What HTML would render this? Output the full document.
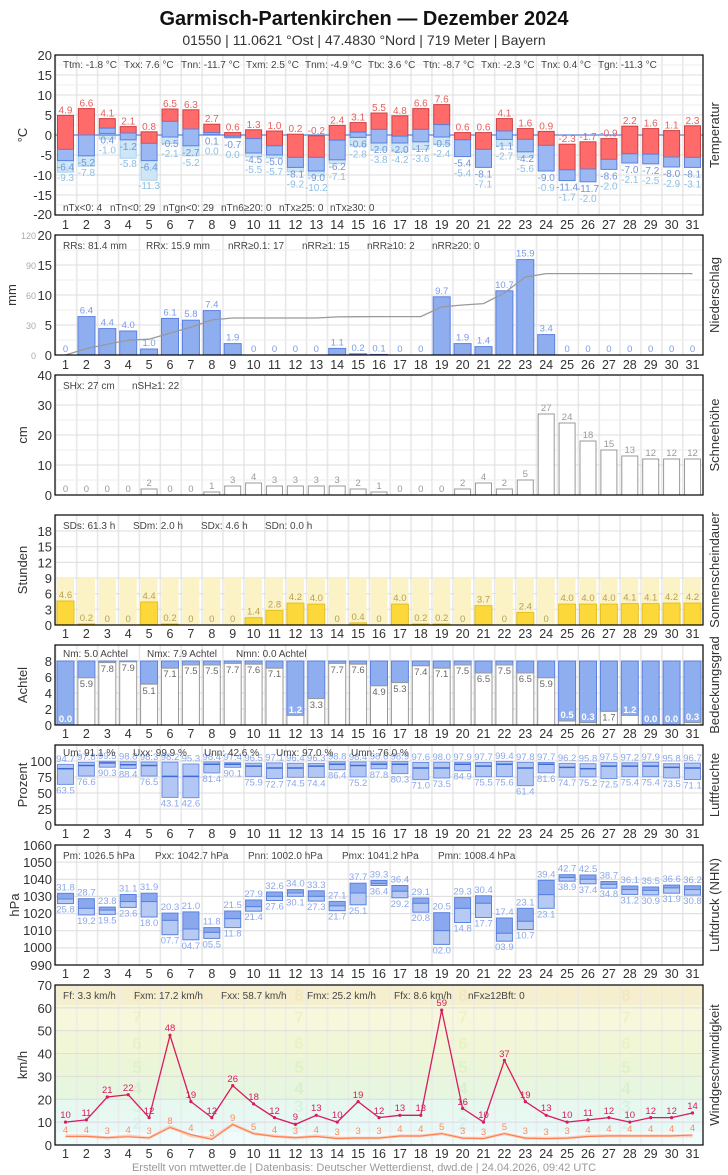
<!DOCTYPE html>
<html><head><meta charset="utf-8"><style>
body{margin:0;background:#fff}
svg{display:block;font-family:"Liberation Sans",sans-serif}
.st{font-size:10px;fill:#444}
.ax{font-size:13px;fill:#333;text-anchor:end}
.dl{font-size:12.5px;fill:#333;text-anchor:middle}
.rt{font-size:13px;fill:#333;text-anchor:middle}
.tr{font-size:10px;fill:#e86060;text-anchor:middle}
.tb{font-size:10px;fill:#6f94dc;text-anchor:middle}
.tg{font-size:10px;fill:#8cc0e4;text-anchor:middle}
.red{fill:#ff6a6a;stroke:#d04040;stroke-width:1}
.blu{fill:#9bb8f2;stroke:#5b82de;stroke-width:1}
.lb{fill:#cfe6f6;stroke:#a8d0ec;stroke-width:1}
.pb{fill:#8eaef0;stroke:#5b80e0;stroke-width:1}
.pl{font-size:9.5px;fill:#7a9ae8;text-anchor:middle}
.sb{fill:#fff;stroke:#999;stroke-width:1}
.sl{font-size:9.5px;fill:#999;text-anchor:middle}
.yb{fill:#fcd83a;stroke:#e4c020;stroke-width:1}
.yp{fill:#fbf2c6}
.yl{font-size:9.5px;fill:#b8a050;text-anchor:middle}
.cw{fill:#fff;stroke:#999;stroke-width:1}
.cb{fill:#8eaef0;stroke:#5b80e0;stroke-width:1}
.cl{font-size:9.5px;fill:#666;text-anchor:middle}
.cwl{font-size:9.5px;fill:#fff;font-weight:bold;text-anchor:middle}
.hb{fill:#b2c7f4;stroke:#6d90e6;stroke-width:1}
.hm{stroke:#3f6ad6;stroke-width:1.5}
.hl{font-size:9.5px;fill:#8aa6ea;text-anchor:middle}
.pu{fill:#8aa8ee;stroke:#5b82de;stroke-width:1}
.pd{fill:#b6caf4;stroke:#5b82de;stroke-width:1}
.wl{font-size:9.5px;fill:#d81b60;text-anchor:middle}
.wo{font-size:9.5px;fill:#ff8a5c;text-anchor:middle}
.bf{font-size:17px;font-weight:bold;text-anchor:middle;opacity:.45}
.g{stroke:#dcdcdc;stroke-width:1}
.g2{stroke:#eeeeee;stroke-width:1}
.fr{fill:none;stroke:#000;stroke-width:1.2}
</style></head><body>
<svg width="728" height="1175" viewBox="0 0 728 1175" xmlns="http://www.w3.org/2000/svg">
<defs>
<pattern id="vg" x="55" y="0" width="20.9" height="20" patternUnits="userSpaceOnUse"><rect x="0" y="0" width="1.6" height="20" fill="#e8e8e8"/></pattern>
<g id="days">
<text x="65.5" class="dl">1</text><text x="86.4" class="dl">2</text><text x="107.3" class="dl">3</text><text x="128.2" class="dl">4</text><text x="149.1" class="dl">5</text><text x="170" class="dl">6</text><text x="190.9" class="dl">7</text><text x="211.8" class="dl">8</text><text x="232.7" class="dl">9</text><text x="253.6" class="dl">10</text><text x="274.5" class="dl">11</text><text x="295.4" class="dl">12</text><text x="316.3" class="dl">13</text><text x="337.2" class="dl">14</text><text x="358.1" class="dl">15</text><text x="379" class="dl">16</text><text x="399.9" class="dl">17</text><text x="420.8" class="dl">18</text><text x="441.7" class="dl">19</text><text x="462.6" class="dl">20</text><text x="483.5" class="dl">21</text><text x="504.4" class="dl">22</text><text x="525.3" class="dl">23</text><text x="546.2" class="dl">24</text><text x="567.1" class="dl">25</text><text x="588" class="dl">26</text><text x="608.9" class="dl">27</text><text x="629.8" class="dl">28</text><text x="650.7" class="dl">29</text><text x="671.6" class="dl">30</text><text x="692.5" class="dl">31</text>
</g>
</defs>

<text x="364" y="25" text-anchor="middle" font-size="20" font-weight="bold" fill="#111">Garmisch-Partenkirchen  —  Dezember 2024</text>
<text x="364" y="45" text-anchor="middle" font-size="14" fill="#333">01550  |  11.0621 °Ost  |  47.4830 °Nord  |  719 Meter  |  Bayern</text>

<!-- ============ TEMPERATURE ============ -->
<rect x="55" y="55" width="648" height="160" fill="url(#vg)"/>
<g class="g2"><line x1="55" x2="703" y1="65" y2="65"/><line x1="55" x2="703" y1="85" y2="85"/><line x1="55" x2="703" y1="105" y2="105"/><line x1="55" x2="703" y1="125" y2="125"/><line x1="55" x2="703" y1="145" y2="145"/><line x1="55" x2="703" y1="165" y2="165"/><line x1="55" x2="703" y1="185" y2="185"/><line x1="55" x2="703" y1="205" y2="205"/></g>
<g class="g"><line x1="55" x2="703" y1="75" y2="75"/><line x1="55" x2="703" y1="95" y2="95"/><line x1="55" x2="703" y1="115" y2="115"/><line x1="55" x2="703" y1="155" y2="155"/><line x1="55" x2="703" y1="175" y2="175"/><line x1="55" x2="703" y1="195" y2="195"/></g>
<g>
<rect class="lb" x="57.5" y="160.6" width="16" height="11.6"/><rect class="lb" x="78.4" y="155.8" width="16" height="10.4"/><rect class="lb" x="99.3" y="133.4" width="16" height="5.6"/><rect class="lb" x="120.2" y="139.8" width="16" height="18.4"/><rect class="lb" x="141.1" y="160.6" width="16" height="19.6"/><rect class="lb" x="162" y="137" width="16" height="6.4"/><rect class="lb" x="182.9" y="145.8" width="16" height="10"/><rect class="lb" x="245.6" y="153" width="16" height="4"/><rect class="lb" x="266.5" y="155" width="16" height="2.8"/><rect class="lb" x="287.4" y="167.4" width="16" height="4.4"/><rect class="lb" x="308.3" y="171" width="16" height="4.8"/><rect class="lb" x="329.2" y="159.8" width="16" height="3.6"/><rect class="lb" x="350.1" y="137.4" width="16" height="8.8"/><rect class="lb" x="371" y="143" width="16" height="7.2"/><rect class="lb" x="391.9" y="143" width="16" height="8.8"/><rect class="lb" x="412.8" y="141.8" width="16" height="7.6"/><rect class="lb" x="433.7" y="137" width="16" height="7.6"/><rect class="lb" x="496.4" y="139.4" width="16" height="6.4"/><rect class="lb" x="517.3" y="151.8" width="16" height="5.6"/>
</g>
<line x1="55" x2="703" y1="135" y2="135" stroke="#5b82de" stroke-width="1.2"/>
<g>
<rect class="red" x="57.5" y="115.4" width="16" height="34"/><rect class="blu" x="57.5" y="149.4" width="16" height="11.2"/>
<rect class="red" x="78.4" y="108.6" width="16" height="26.4"/><rect class="blu" x="78.4" y="135" width="16" height="20.8"/>
<rect class="red" x="99.3" y="118.6" width="16" height="9.6"/><rect class="blu" x="99.3" y="128.2" width="16" height="5.2"/>
<rect class="red" x="120.2" y="126.6" width="16" height="6.4"/><rect class="blu" x="120.2" y="133" width="16" height="6.8"/>
<rect class="red" x="141.1" y="131.8" width="16" height="11.6"/><rect class="blu" x="141.1" y="143.4" width="16" height="17.2"/>
<rect class="red" x="162" y="109" width="16" height="12.4"/><rect class="blu" x="162" y="121.4" width="16" height="15.6"/>
<rect class="red" x="182.9" y="109.8" width="16" height="19.2"/><rect class="blu" x="182.9" y="129" width="16" height="16.8"/>
<rect class="red" x="203.8" y="124.2" width="16" height="8.4"/><rect class="blu" x="203.8" y="132.6" width="16" height="2"/>
<rect class="red" x="224.7" y="132.6" width="16" height="3.6"/><rect class="blu" x="224.7" y="136.2" width="16" height="1.6"/>
<rect class="red" x="245.6" y="129.8" width="16" height="8.8"/><rect class="blu" x="245.6" y="138.6" width="16" height="14.4"/>
<rect class="red" x="266.5" y="131" width="16" height="14.8"/><rect class="blu" x="266.5" y="145.8" width="16" height="9.2"/>
<rect class="red" x="287.4" y="134.2" width="16" height="23.2"/><rect class="blu" x="287.4" y="157.4" width="16" height="10"/>
<rect class="red" x="308.3" y="135.8" width="16" height="21.6"/><rect class="blu" x="308.3" y="157.4" width="16" height="13.6"/>
<rect class="red" x="329.2" y="125.4" width="16" height="14.8"/><rect class="blu" x="329.2" y="140.2" width="16" height="19.6"/>
<rect class="red" x="350.1" y="122.6" width="16" height="9.6"/><rect class="blu" x="350.1" y="132.2" width="16" height="5.2"/>
<rect class="red" x="371" y="113" width="16" height="16.4"/><rect class="blu" x="371" y="129.4" width="16" height="13.6"/>
<rect class="red" x="391.9" y="115.8" width="16" height="20.4"/><rect class="blu" x="391.9" y="136.2" width="16" height="6.8"/>
<rect class="red" x="412.8" y="108.6" width="16" height="20.8"/><rect class="blu" x="412.8" y="129.4" width="16" height="12.4"/>
<rect class="red" x="433.7" y="104.6" width="16" height="20"/><rect class="blu" x="433.7" y="124.6" width="16" height="12.4"/>
<rect class="red" x="454.6" y="132.6" width="16" height="7.2"/><rect class="blu" x="454.6" y="139.8" width="16" height="16.8"/>
<rect class="red" x="475.5" y="132.6" width="16" height="16.8"/><rect class="blu" x="475.5" y="149.4" width="16" height="18"/>
<rect class="red" x="496.4" y="118.6" width="16" height="12.4"/><rect class="blu" x="496.4" y="131" width="16" height="8.4"/>
<rect class="red" x="517.3" y="128.6" width="16" height="10.8"/><rect class="blu" x="517.3" y="139.4" width="16" height="12.4"/>
<rect class="red" x="538.2" y="131.4" width="16" height="14"/><rect class="blu" x="538.2" y="145.4" width="16" height="25.6"/>
<rect class="red" x="559.1" y="144.2" width="16" height="25.6"/><rect class="blu" x="559.1" y="169.8" width="16" height="10.8"/>
<rect class="red" x="580" y="141.8" width="16" height="27.2"/><rect class="blu" x="580" y="169" width="16" height="12.8"/>
<rect class="red" x="600.9" y="138.6" width="16" height="20.8"/><rect class="blu" x="600.9" y="159.4" width="16" height="10"/>
<rect class="red" x="621.8" y="126.2" width="16" height="27.6"/><rect class="blu" x="621.8" y="153.8" width="16" height="9.2"/>
<rect class="red" x="642.7" y="128.6" width="16" height="25.6"/><rect class="blu" x="642.7" y="154.2" width="16" height="9.6"/>
<rect class="red" x="663.6" y="130.6" width="16" height="26.4"/><rect class="blu" x="663.6" y="157" width="16" height="10"/>
<rect class="red" x="684.5" y="125.8" width="16" height="31.6"/><rect class="blu" x="684.5" y="157.4" width="16" height="10"/>
</g>
<g>
<text class="tr" x="65.5" y="113.4">4.9</text><text class="tb" x="65.5" y="170.6">-6.4</text><text class="tg" x="65.5" y="181.2">-9.3</text>
<text class="tr" x="86.4" y="106.6">6.6</text><text class="tb" x="86.4" y="165.8">-5.2</text><text class="tg" x="86.4" y="175.8">-7.8</text>
<text class="tr" x="107.3" y="116.6">4.1</text><text class="tb" x="107.3" y="143.4">0.4</text><text class="tg" x="107.3" y="153.4">-1.0</text>
<text class="tr" x="128.2" y="124.6">2.1</text><text class="tb" x="128.2" y="149.8">-1.2</text><text class="tg" x="128.2" y="167.2">-5.8</text>
<text class="tr" x="149.1" y="129.8">0.8</text><text class="tb" x="149.1" y="170.6">-6.4</text><text class="tg" x="149.1" y="189.2">-11.3</text>
<text class="tr" x="170" y="107">6.5</text><text class="tb" x="170" y="147">-0.5</text><text class="tg" x="170" y="157">-2.1</text>
<text class="tr" x="190.9" y="107.8">6.3</text><text class="tb" x="190.9" y="155.8">-2.7</text><text class="tg" x="190.9" y="165.8">-5.2</text>
<text class="tr" x="211.8" y="122.2">2.7</text><text class="tb" x="211.8" y="144.6">0.1</text><text class="tg" x="211.8" y="154.6">0.0</text>
<text class="tr" x="232.7" y="130.6">0.6</text><text class="tb" x="232.7" y="147.8">-0.7</text><text class="tg" x="232.7" y="157.8">0.0</text>
<text class="tr" x="253.6" y="127.8">1.3</text><text class="tb" x="253.6" y="163">-4.5</text><text class="tg" x="253.6" y="173">-5.5</text>
<text class="tr" x="274.5" y="129">1.0</text><text class="tb" x="274.5" y="165">-5.0</text><text class="tg" x="274.5" y="175">-5.7</text>
<text class="tr" x="295.4" y="132.2">0.2</text><text class="tb" x="295.4" y="177.4">-8.1</text><text class="tg" x="295.4" y="187.4">-9.2</text>
<text class="tr" x="316.3" y="133.8">-0.2</text><text class="tb" x="316.3" y="181">-9.0</text><text class="tg" x="316.3" y="191">-10.2</text>
<text class="tr" x="337.2" y="123.4">2.4</text><text class="tb" x="337.2" y="169.8">-6.2</text><text class="tg" x="337.2" y="179.8">-7.1</text>
<text class="tr" x="358.1" y="120.6">3.1</text><text class="tb" x="358.1" y="147.4">-0.6</text><text class="tg" x="358.1" y="157.4">-2.8</text>
<text class="tr" x="379" y="111">5.5</text><text class="tb" x="379" y="153">-2.0</text><text class="tg" x="379" y="163">-3.8</text>
<text class="tr" x="399.9" y="113.8">4.8</text><text class="tb" x="399.9" y="153">-2.0</text><text class="tg" x="399.9" y="163">-4.2</text>
<text class="tr" x="420.8" y="106.6">6.6</text><text class="tb" x="420.8" y="151.8">-1.7</text><text class="tg" x="420.8" y="161.8">-3.6</text>
<text class="tr" x="441.7" y="102.6">7.6</text><text class="tb" x="441.7" y="147">-0.5</text><text class="tg" x="441.7" y="157">-2.4</text>
<text class="tr" x="462.6" y="130.6">0.6</text><text class="tb" x="462.6" y="166.6">-5.4</text><text class="tg" x="462.6" y="176.6">-5.4</text>
<text class="tr" x="483.5" y="130.6">0.6</text><text class="tb" x="483.5" y="177.4">-8.1</text><text class="tg" x="483.5" y="187.4">-7.1</text>
<text class="tr" x="504.4" y="116.6">4.1</text><text class="tb" x="504.4" y="149.4">-1.1</text><text class="tg" x="504.4" y="159.4">-2.7</text>
<text class="tr" x="525.3" y="126.6">1.6</text><text class="tb" x="525.3" y="161.8">-4.2</text><text class="tg" x="525.3" y="171.8">-5.6</text>
<text class="tr" x="546.2" y="129.4">0.9</text><text class="tb" x="546.2" y="181">-9.0</text><text class="tg" x="546.2" y="191">-0.9</text>
<text class="tr" x="567.1" y="142.2">-2.3</text><text class="tb" x="567.1" y="190.6">-11.4</text><text class="tg" x="567.1" y="200.6">-1.7</text>
<text class="tr" x="588" y="139.8">-1.7</text><text class="tb" x="588" y="191.8">-11.7</text><text class="tg" x="588" y="201.8">-2.0</text>
<text class="tr" x="608.9" y="136.6">-0.9</text><text class="tb" x="608.9" y="179.4">-8.6</text><text class="tg" x="608.9" y="189.4">-2.0</text>
<text class="tr" x="629.8" y="124.2">2.2</text><text class="tb" x="629.8" y="173">-7.0</text><text class="tg" x="629.8" y="183">-2.1</text>
<text class="tr" x="650.7" y="126.6">1.6</text><text class="tb" x="650.7" y="173.8">-7.2</text><text class="tg" x="650.7" y="183.8">-2.5</text>
<text class="tr" x="671.6" y="128.6">1.1</text><text class="tb" x="671.6" y="177">-8.0</text><text class="tg" x="671.6" y="187">-2.9</text>
<text class="tr" x="692.5" y="123.8">2.3</text><text class="tb" x="692.5" y="177.4">-8.1</text><text class="tg" x="692.5" y="187.4">-3.1</text>
</g>
<g class="st" font-size="9"><text x="63" y="68">Ttm: -1.8 °C</text><text x="124" y="68">Txx: 7.6 °C</text><text x="181" y="68">Tnn: -11.7 °C</text><text x="246" y="68">Txm: 2.5 °C</text><text x="305" y="68">Tnm: -4.9 °C</text><text x="368" y="68">Ttx: 3.6 °C</text><text x="423" y="68">Ttn: -8.7 °C</text><text x="481" y="68">Txn: -2.3 °C</text><text x="541" y="68">Tnx: 0.4 °C</text><text x="598" y="68">Tgn: -11.3 °C</text>
<text x="63" y="211">nTx&lt;0: 4</text><text x="110" y="211">nTn&lt;0: 29</text><text x="163" y="211">nTgn&lt;0: 29</text><text x="221" y="211">nTn6≥20: 0</text><text x="279" y="211">nTx≥25: 0</text><text x="330" y="211">nTx≥30: 0</text></g>
<rect class="fr" x="55" y="55" width="648" height="160"/>
<g class="ax"><text x="52" y="60">20</text><text x="52" y="80">15</text><text x="52" y="100">10</text><text x="52" y="120">5</text><text x="52" y="140">0</text><text x="52" y="160">-5</text><text x="52" y="180">-10</text><text x="52" y="200">-15</text><text x="52" y="219">-20</text></g>
<text class="rt" transform="translate(27,135) rotate(-90)">°C</text>
<text class="rt" transform="translate(719,135) rotate(-90)">Temperatur</text>
<use href="#days" y="229"/>

<!-- ============ PRECIP ============ -->
<rect x="55" y="235" width="648" height="120" fill="url(#vg)"/>
<g class="g"><line x1="55" x2="703" y1="265" y2="265"/><line x1="55" x2="703" y1="295" y2="295"/><line x1="55" x2="703" y1="325" y2="325"/></g>
<g class="g2"><line x1="55" x2="703" y1="250" y2="250"/><line x1="55" x2="703" y1="280" y2="280"/><line x1="55" x2="703" y1="310" y2="310"/><line x1="55" x2="703" y1="340" y2="340"/></g>
<g>
<rect class="pb" x="78" y="316.6" width="17" height="38.4"/><rect class="pb" x="98.8" y="328.6" width="17" height="26.4"/><rect class="pb" x="119.7" y="331" width="17" height="24"/><rect class="pb" x="140.6" y="349" width="17" height="6"/><rect class="pb" x="161.5" y="318.4" width="17" height="36.6"/><rect class="pb" x="182.4" y="320.2" width="17" height="34.8"/><rect class="pb" x="203.3" y="310.6" width="17" height="44.4"/><rect class="pb" x="224.2" y="343.6" width="17" height="11.4"/><rect class="pb" x="328.7" y="348.4" width="17" height="6.6"/><rect class="pb" x="349.6" y="353.8" width="17" height="1.2"/><rect class="pb" x="370.5" y="354.4" width="17" height="0.6"/><rect class="pb" x="433.2" y="296.8" width="17" height="58.2"/><rect class="pb" x="454.1" y="343.6" width="17" height="11.4"/><rect class="pb" x="475" y="346.6" width="17" height="8.4"/><rect class="pb" x="495.9" y="290.8" width="17" height="64.2"/><rect class="pb" x="516.8" y="259.6" width="17" height="95.4"/><rect class="pb" x="537.7" y="334.6" width="17" height="20.4"/>
</g>
<polyline fill="none" stroke="#999" stroke-width="1.3" points="65.5,355 86.4,348.6 107.3,344.2 128.2,340.2 149.1,339.2 170,333.1 190.9,327.3 211.8,319.9 232.7,318 253.6,318 274.5,318 295.4,318 316.3,318 337.2,316.9 358.1,316.7 379,316.6 399.9,316.6 420.8,316.6 441.7,306.9 462.6,305 483.5,303.6 504.4,292.9 525.3,277 546.2,273.6 567.1,273.6 588,273.6 608.9,273.6 629.8,273.6 650.7,273.6 671.6,273.6 692.5,273.6"/>
<g>
<text class="pl" x="65.5" y="352">0</text><text class="pl" x="86.4" y="313.6">6.4</text><text class="pl" x="107.3" y="325.6">4.4</text><text class="pl" x="128.2" y="328">4.0</text><text class="pl" x="149.1" y="346">1.0</text><text class="pl" x="170" y="315.4">6.1</text><text class="pl" x="190.9" y="317.2">5.8</text><text class="pl" x="211.8" y="307.6">7.4</text><text class="pl" x="232.7" y="340.6">1.9</text><text class="pl" x="253.6" y="352">0</text><text class="pl" x="274.5" y="352">0</text><text class="pl" x="295.4" y="352">0</text><text class="pl" x="316.3" y="352">0</text><text class="pl" x="337.2" y="345.4">1.1</text><text class="pl" x="358.1" y="351">0.2</text><text class="pl" x="379" y="351.4">0.1</text><text class="pl" x="399.9" y="352">0</text><text class="pl" x="420.8" y="352">0</text><text class="pl" x="441.7" y="293.8">9.7</text><text class="pl" x="462.6" y="340.6">1.9</text><text class="pl" x="483.5" y="343.6">1.4</text><text class="pl" x="504.4" y="287.8">10.7</text><text class="pl" x="525.3" y="256.6">15.9</text><text class="pl" x="546.2" y="331.6">3.4</text><text class="pl" x="567.1" y="352">0</text><text class="pl" x="588" y="352">0</text><text class="pl" x="608.9" y="352">0</text><text class="pl" x="629.8" y="352">0</text><text class="pl" x="650.7" y="352">0</text><text class="pl" x="671.6" y="352">0</text><text class="pl" x="692.5" y="352">0</text>
</g>
<g class="st" font-size="10.5"><text x="63" y="249">RRs: 81.4 mm</text><text x="146" y="249">RRx: 15.9 mm</text><text x="228" y="249">nRR≥0.1: 17</text><text x="302" y="249">nRR≥1: 15</text><text x="367" y="249">nRR≥10: 2</text><text x="432" y="249">nRR≥20: 0</text></g>
<rect class="fr" x="55" y="235" width="648" height="120"/>
<g class="ax"><text x="52" y="240">20</text><text x="52" y="270">15</text><text x="52" y="300">10</text><text x="52" y="330">5</text><text x="52" y="360">0</text></g>
<g font-size="9" fill="#aaa" text-anchor="end"><text x="36" y="239">120</text><text x="36" y="269">90</text><text x="36" y="299">60</text><text x="36" y="329">30</text><text x="36" y="359">0</text></g>
<text class="rt" transform="translate(16,295) rotate(-90)">mm</text>
<text class="rt" transform="translate(719,295) rotate(-90)">Niederschlag</text>
<use href="#days" y="369"/>

<!-- ============ SNOW ============ -->
<rect x="55" y="375" width="648" height="120" fill="url(#vg)"/>
<g class="g"><line x1="55" x2="703" y1="405" y2="405"/><line x1="55" x2="703" y1="435" y2="435"/><line x1="55" x2="703" y1="465" y2="465"/></g>
<g class="g2"><line x1="55" x2="703" y1="390" y2="390"/><line x1="55" x2="703" y1="420" y2="420"/><line x1="55" x2="703" y1="450" y2="450"/><line x1="55" x2="703" y1="480" y2="480"/></g>
<g>
<rect class="sb" x="141.1" y="489" width="16" height="6"/><rect class="sb" x="203.8" y="492" width="16" height="3"/><rect class="sb" x="224.7" y="486" width="16" height="9"/><rect class="sb" x="245.6" y="483" width="16" height="12"/><rect class="sb" x="266.5" y="486" width="16" height="9"/><rect class="sb" x="287.4" y="486" width="16" height="9"/><rect class="sb" x="308.3" y="486" width="16" height="9"/><rect class="sb" x="329.2" y="486" width="16" height="9"/><rect class="sb" x="350.1" y="489" width="16" height="6"/><rect class="sb" x="371" y="492" width="16" height="3"/><rect class="sb" x="454.6" y="489" width="16" height="6"/><rect class="sb" x="475.5" y="483" width="16" height="12"/><rect class="sb" x="496.4" y="489" width="16" height="6"/><rect class="sb" x="517.3" y="480" width="16" height="15"/><rect class="sb" x="538.2" y="414" width="16" height="81"/><rect class="sb" x="559.1" y="423" width="16" height="72"/><rect class="sb" x="580" y="441" width="16" height="54"/><rect class="sb" x="600.9" y="450" width="16" height="45"/><rect class="sb" x="621.8" y="456" width="16" height="39"/><rect class="sb" x="642.7" y="459" width="16" height="36"/><rect class="sb" x="663.6" y="459" width="16" height="36"/><rect class="sb" x="684.5" y="459" width="16" height="36"/>
</g>
<g>
<text class="sl" x="65.5" y="492">0</text><text class="sl" x="86.4" y="492">0</text><text class="sl" x="107.3" y="492">0</text><text class="sl" x="128.2" y="492">0</text><text class="sl" x="149.1" y="486">2</text><text class="sl" x="170" y="492">0</text><text class="sl" x="190.9" y="492">0</text><text class="sl" x="211.8" y="489">1</text><text class="sl" x="232.7" y="483">3</text><text class="sl" x="253.6" y="480">4</text><text class="sl" x="274.5" y="483">3</text><text class="sl" x="295.4" y="483">3</text><text class="sl" x="316.3" y="483">3</text><text class="sl" x="337.2" y="483">3</text><text class="sl" x="358.1" y="486">2</text><text class="sl" x="379" y="489">1</text><text class="sl" x="399.9" y="492">0</text><text class="sl" x="420.8" y="492">0</text><text class="sl" x="441.7" y="492">0</text><text class="sl" x="462.6" y="486">2</text><text class="sl" x="483.5" y="480">4</text><text class="sl" x="504.4" y="486">2</text><text class="sl" x="525.3" y="477">5</text><text class="sl" x="546.2" y="411">27</text><text class="sl" x="567.1" y="420">24</text><text class="sl" x="588" y="438">18</text><text class="sl" x="608.9" y="447">15</text><text class="sl" x="629.8" y="453">13</text><text class="sl" x="650.7" y="456">12</text><text class="sl" x="671.6" y="456">12</text><text class="sl" x="692.5" y="456">12</text>
</g>
<g class="st" font-size="10.5"><text x="63" y="389">SHx: 27 cm</text><text x="132" y="389">nSH≥1: 22</text></g>
<rect class="fr" x="55" y="375" width="648" height="120"/>
<g class="ax"><text x="52" y="380">40</text><text x="52" y="410">30</text><text x="52" y="440">20</text><text x="52" y="470">10</text><text x="52" y="500">0</text></g>
<text class="rt" transform="translate(27,435) rotate(-90)">cm</text>
<text class="rt" transform="translate(719,435) rotate(-90)">Schneehöhe</text>

<!-- ============ SUN ============ -->
<rect x="55" y="515" width="648" height="110" fill="url(#vg)"/>
<g class="g"><line x1="55" x2="703" y1="531" y2="531"/><line x1="55" x2="703" y1="546.7" y2="546.7"/><line x1="55" x2="703" y1="562.4" y2="562.4"/><line x1="55" x2="703" y1="578" y2="578"/><line x1="55" x2="703" y1="593.7" y2="593.7"/><line x1="55" x2="703" y1="609.3" y2="609.3"/></g>
<g class="yp">
<rect x="57" y="578" width="17" height="47"/><rect x="77.9" y="578" width="17" height="47"/><rect x="98.8" y="578" width="17" height="47"/><rect x="119.7" y="578" width="17" height="47"/><rect x="140.6" y="578" width="17" height="47"/><rect x="161.5" y="578" width="17" height="47"/><rect x="182.4" y="578" width="17" height="47"/><rect x="203.3" y="578" width="17" height="47"/><rect x="224.2" y="578" width="17" height="47"/><rect x="245.1" y="578" width="17" height="47"/><rect x="266" y="578" width="17" height="47"/><rect x="286.9" y="578" width="17" height="47"/><rect x="307.8" y="578" width="17" height="47"/><rect x="328.7" y="578" width="17" height="47"/><rect x="349.6" y="578" width="17" height="47"/><rect x="370.5" y="578" width="17" height="47"/><rect x="391.4" y="578" width="17" height="47"/><rect x="412.3" y="578" width="17" height="47"/><rect x="433.2" y="578" width="17" height="47"/><rect x="454.1" y="578" width="17" height="47"/><rect x="475" y="578" width="17" height="47"/><rect x="495.9" y="578" width="17" height="47"/><rect x="516.8" y="578" width="17" height="47"/><rect x="537.7" y="578" width="17" height="47"/><rect x="558.6" y="578" width="17" height="47"/><rect x="579.5" y="578" width="17" height="47"/><rect x="600.4" y="578" width="17" height="47"/><rect x="621.3" y="578" width="17" height="47"/><rect x="642.2" y="578" width="17" height="47"/><rect x="663.1" y="578" width="17" height="47"/><rect x="684" y="578" width="17" height="47"/>
</g>
<g>
<rect class="yb" x="57" y="601" width="17" height="24"/><rect class="yb" x="77.9" y="624" width="17" height="1"/><rect class="yb" x="140.6" y="602" width="17" height="23"/><rect class="yb" x="161.5" y="624" width="17" height="1"/><rect class="yb" x="245.1" y="617.7" width="17" height="7.3"/><rect class="yb" x="266" y="610.4" width="17" height="14.6"/><rect class="yb" x="286.9" y="603.1" width="17" height="21.9"/><rect class="yb" x="307.8" y="604.1" width="17" height="20.9"/><rect class="yb" x="349.6" y="622.9" width="17" height="2.1"/><rect class="yb" x="391.4" y="604.1" width="17" height="20.9"/><rect class="yb" x="412.3" y="624" width="17" height="1"/><rect class="yb" x="433.2" y="624" width="17" height="1"/><rect class="yb" x="475" y="605.7" width="17" height="19.3"/><rect class="yb" x="516.8" y="612.5" width="17" height="12.5"/><rect class="yb" x="558.6" y="604.1" width="17" height="20.9"/><rect class="yb" x="579.5" y="604.1" width="17" height="20.9"/><rect class="yb" x="600.4" y="604.1" width="17" height="20.9"/><rect class="yb" x="621.3" y="603.6" width="17" height="21.4"/><rect class="yb" x="642.2" y="603.6" width="17" height="21.4"/><rect class="yb" x="663.1" y="603.1" width="17" height="21.9"/><rect class="yb" x="684" y="603.1" width="17" height="21.9"/>
</g>
<g>
<text class="yl" x="65.5" y="598">4.6</text><text class="yl" x="86.4" y="621">0.2</text><text class="yl" x="107.3" y="622">0</text><text class="yl" x="128.2" y="622">0</text><text class="yl" x="149.1" y="599">4.4</text><text class="yl" x="170" y="621">0.2</text><text class="yl" x="190.9" y="622">0</text><text class="yl" x="211.8" y="622">0</text><text class="yl" x="232.7" y="622">0</text><text class="yl" x="253.6" y="614.7">1.4</text><text class="yl" x="274.5" y="607.4">2.8</text><text class="yl" x="295.4" y="600.1">4.2</text><text class="yl" x="316.3" y="601.1">4.0</text><text class="yl" x="337.2" y="622">0</text><text class="yl" x="358.1" y="619.9">0.4</text><text class="yl" x="379" y="622">0</text><text class="yl" x="399.9" y="601.1">4.0</text><text class="yl" x="420.8" y="621">0.2</text><text class="yl" x="441.7" y="621">0.2</text><text class="yl" x="462.6" y="622">0</text><text class="yl" x="483.5" y="602.7">3.7</text><text class="yl" x="504.4" y="622">0</text><text class="yl" x="525.3" y="609.5">2.4</text><text class="yl" x="546.2" y="622">0</text><text class="yl" x="567.1" y="601.1">4.0</text><text class="yl" x="588" y="601.1">4.0</text><text class="yl" x="608.9" y="601.1">4.0</text><text class="yl" x="629.8" y="600.6">4.1</text><text class="yl" x="650.7" y="600.6">4.1</text><text class="yl" x="671.6" y="600.1">4.2</text><text class="yl" x="692.5" y="600.1">4.2</text>
</g>
<g class="st" font-size="10.5"><text x="63" y="529">SDs: 61.3 h</text><text x="133" y="529">SDm: 2.0 h</text><text x="201" y="529">SDx: 4.6 h</text><text x="265" y="529">SDn: 0.0 h</text></g>
<rect class="fr" x="55" y="515" width="648" height="110"/>
<g class="ax"><text x="52" y="536">18</text><text x="52" y="551.7">15</text><text x="52" y="567.4">12</text><text x="52" y="583">9</text><text x="52" y="598.7">6</text><text x="52" y="614.3">3</text><text x="52" y="630">0</text></g>
<text class="rt" transform="translate(27,570) rotate(-90)">Stunden</text>
<text class="rt" transform="translate(719,570) rotate(-90)">Sonnenscheindauer</text>
<use href="#days" y="638"/>

<!-- ============ CLOUD ============ -->
<rect x="55" y="645" width="648" height="80" fill="url(#vg)"/>
<g class="g"><line x1="55" x2="703" y1="661" y2="661"/><line x1="55" x2="703" y1="677" y2="677"/><line x1="55" x2="703" y1="693" y2="693"/><line x1="55" x2="703" y1="709" y2="709"/></g>
<g>
<rect class="cb" x="57" y="661" width="17" height="64"/>
<rect class="cb" x="77.9" y="661" width="17" height="16.8"/><rect class="cw" x="77.9" y="677.8" width="17" height="47.2"/>
<rect class="cb" x="98.8" y="661" width="17" height="1.6"/><rect class="cw" x="98.8" y="662.6" width="17" height="62.4"/>
<rect class="cb" x="119.7" y="661" width="17" height="0.8"/><rect class="cw" x="119.7" y="661.8" width="17" height="63.2"/>
<rect class="cb" x="140.6" y="661" width="17" height="23.2"/><rect class="cw" x="140.6" y="684.2" width="17" height="40.8"/>
<rect class="cb" x="161.5" y="661" width="17" height="7.2"/><rect class="cw" x="161.5" y="668.2" width="17" height="56.8"/>
<rect class="cb" x="182.4" y="661" width="17" height="4"/><rect class="cw" x="182.4" y="665" width="17" height="60"/>
<rect class="cb" x="203.3" y="661" width="17" height="4"/><rect class="cw" x="203.3" y="665" width="17" height="60"/>
<rect class="cb" x="224.2" y="661" width="17" height="2.4"/><rect class="cw" x="224.2" y="663.4" width="17" height="61.6"/>
<rect class="cb" x="245.1" y="661" width="17" height="3.2"/><rect class="cw" x="245.1" y="664.2" width="17" height="60.8"/>
<rect class="cb" x="266" y="661" width="17" height="7.2"/><rect class="cw" x="266" y="668.2" width="17" height="56.8"/>
<rect class="cb" x="286.9" y="661" width="17" height="54.4"/><rect class="cw" x="286.9" y="715.4" width="17" height="9.6"/>
<rect class="cb" x="307.8" y="661" width="17" height="37.6"/><rect class="cw" x="307.8" y="698.6" width="17" height="26.4"/>
<rect class="cb" x="328.7" y="661" width="17" height="2.4"/><rect class="cw" x="328.7" y="663.4" width="17" height="61.6"/>
<rect class="cb" x="349.6" y="661" width="17" height="3.2"/><rect class="cw" x="349.6" y="664.2" width="17" height="60.8"/>
<rect class="cb" x="370.5" y="661" width="17" height="24.8"/><rect class="cw" x="370.5" y="685.8" width="17" height="39.2"/>
<rect class="cb" x="391.4" y="661" width="17" height="21.6"/><rect class="cw" x="391.4" y="682.6" width="17" height="42.4"/>
<rect class="cb" x="412.3" y="661" width="17" height="4.8"/><rect class="cw" x="412.3" y="665.8" width="17" height="59.2"/>
<rect class="cb" x="433.2" y="661" width="17" height="7.2"/><rect class="cw" x="433.2" y="668.2" width="17" height="56.8"/>
<rect class="cb" x="454.1" y="661" width="17" height="4"/><rect class="cw" x="454.1" y="665" width="17" height="60"/>
<rect class="cb" x="475" y="661" width="17" height="12"/><rect class="cw" x="475" y="673" width="17" height="52"/>
<rect class="cb" x="495.9" y="661" width="17" height="4"/><rect class="cw" x="495.9" y="665" width="17" height="60"/>
<rect class="cb" x="516.8" y="661" width="17" height="12"/><rect class="cw" x="516.8" y="673" width="17" height="52"/>
<rect class="cb" x="537.7" y="661" width="17" height="16.8"/><rect class="cw" x="537.7" y="677.8" width="17" height="47.2"/>
<rect class="cb" x="558.6" y="661" width="17" height="60"/><rect class="cw" x="558.6" y="721" width="17" height="4"/>
<rect class="cb" x="579.5" y="661" width="17" height="61.6"/><rect class="cw" x="579.5" y="722.6" width="17" height="2.4"/>
<rect class="cb" x="600.4" y="661" width="17" height="50.4"/><rect class="cw" x="600.4" y="711.4" width="17" height="13.6"/>
<rect class="cb" x="621.3" y="661" width="17" height="54.4"/><rect class="cw" x="621.3" y="715.4" width="17" height="9.6"/>
<rect class="cb" x="642.2" y="661" width="17" height="64"/>
<rect class="cb" x="663.1" y="661" width="17" height="64"/>
<rect class="cb" x="684" y="661" width="17" height="61.6"/><rect class="cw" x="684" y="722.6" width="17" height="2.4"/>
</g>
<g>
<text class="cwl" x="65.5" y="722">0.0</text><text class="cl" x="86.4" y="687">5.9</text><text class="cl" x="107.3" y="672">7.8</text><text class="cl" x="128.2" y="671">7.9</text><text class="cl" x="149.1" y="694">5.1</text><text class="cl" x="170" y="677">7.1</text><text class="cl" x="190.9" y="674">7.5</text><text class="cl" x="211.8" y="674">7.5</text><text class="cl" x="232.7" y="673">7.7</text><text class="cl" x="253.6" y="673">7.6</text><text class="cl" x="274.5" y="677">7.1</text><text class="cwl" x="295.4" y="713">1.2</text><text class="cl" x="316.3" y="708">3.3</text><text class="cl" x="337.2" y="673">7.7</text><text class="cl" x="358.1" y="673">7.6</text><text class="cl" x="379" y="695">4.9</text><text class="cl" x="399.9" y="692">5.3</text><text class="cl" x="420.8" y="675">7.4</text><text class="cl" x="441.7" y="677">7.1</text><text class="cl" x="462.6" y="674">7.5</text><text class="cl" x="483.5" y="682">6.5</text><text class="cl" x="504.4" y="674">7.5</text><text class="cl" x="525.3" y="682">6.5</text><text class="cl" x="546.2" y="687">5.9</text><text class="cwl" x="567.1" y="718">0.5</text><text class="cwl" x="588" y="720">0.3</text><text class="cl" x="608.9" y="720.5">1.7</text><text class="cwl" x="629.8" y="713">1.2</text><text class="cwl" x="650.7" y="722">0.0</text><text class="cwl" x="671.6" y="722">0.0</text><text class="cwl" x="692.5" y="720">0.3</text>
</g>
<g class="st" font-size="10.5"><text x="63" y="657">Nm: 5.0 Achtel</text><text x="147" y="657">Nmx: 7.9 Achtel</text><text x="236" y="657">Nmn: 0.0 Achtel</text></g>
<rect class="fr" x="55" y="645" width="648" height="80"/>
<g class="ax"><text x="52" y="666">8</text><text x="52" y="682">6</text><text x="52" y="698">4</text><text x="52" y="714">2</text><text x="52" y="730">0</text></g>
<text class="rt" transform="translate(27,685) rotate(-90)">Achtel</text>
<text class="rt" transform="translate(719,685) rotate(-90)">Bedeckungsgrad</text>
<use href="#days" y="738"/>

<!-- ============ HUMIDITY ============ -->
<rect x="55" y="745" width="648" height="80" fill="url(#vg)"/>
<g class="g"><line x1="55" x2="703" y1="761" y2="761"/><line x1="55" x2="703" y1="777" y2="777"/><line x1="55" x2="703" y1="793" y2="793"/><line x1="55" x2="703" y1="809" y2="809"/></g>
<g>
<rect class="hb" x="57.5" y="764.4" width="16" height="20"/><rect class="hb" x="78.4" y="762.4" width="16" height="13.6"/><rect class="hb" x="99.3" y="761.3" width="16" height="5.9"/><rect class="hb" x="120.2" y="761.8" width="16" height="6.6"/><rect class="hb" x="141.1" y="762.1" width="16" height="13.9"/><rect class="hb" x="162" y="762.2" width="16" height="35.2"/><rect class="hb" x="182.9" y="764" width="16" height="33.7"/><rect class="hb" x="203.8" y="762" width="16" height="10.9"/><rect class="hb" x="224.7" y="762.7" width="16" height="4.6"/><rect class="hb" x="245.6" y="763.2" width="16" height="13.2"/><rect class="hb" x="266.5" y="762.9" width="16" height="15.6"/><rect class="hb" x="287.4" y="763.3" width="16" height="14"/><rect class="hb" x="308.3" y="763.4" width="16" height="14"/><rect class="hb" x="329.2" y="761.8" width="16" height="7.9"/><rect class="hb" x="350.1" y="762" width="16" height="14.9"/><rect class="hb" x="371" y="761.9" width="16" height="6.9"/><rect class="hb" x="391.9" y="761.7" width="16" height="11.9"/><rect class="hb" x="412.8" y="762.5" width="16" height="17.1"/><rect class="hb" x="433.7" y="762.3" width="16" height="15.7"/><rect class="hb" x="454.6" y="762.3" width="16" height="8.4"/><rect class="hb" x="475.5" y="762.5" width="16" height="14.2"/><rect class="hb" x="496.4" y="761.4" width="16" height="15.2"/><rect class="hb" x="517.3" y="762.4" width="16" height="23.3"/><rect class="hb" x="538.2" y="762.5" width="16" height="10.3"/><rect class="hb" x="559.1" y="763.4" width="16" height="13.8"/><rect class="hb" x="580" y="763.7" width="16" height="13.2"/><rect class="hb" x="600.9" y="762.6" width="16" height="16"/><rect class="hb" x="621.8" y="762.8" width="16" height="13.9"/><rect class="hb" x="642.7" y="762.3" width="16" height="14.4"/><rect class="hb" x="663.6" y="763.7" width="16" height="14.3"/><rect class="hb" x="684.5" y="763.1" width="16" height="16.4"/>
</g>
<g class="hm">
<line x1="57.5" x2="73.5" y1="768.7" y2="768.7"/><line x1="78.4" x2="94.4" y1="765.5" y2="765.5"/><line x1="99.3" x2="115.3" y1="762.9" y2="762.9"/><line x1="120.2" x2="136.2" y1="764.8" y2="764.8"/><line x1="141.1" x2="157.1" y1="765.5" y2="765.5"/><line x1="162" x2="178" y1="776.4" y2="776.4"/><line x1="182.9" x2="198.9" y1="776.4" y2="776.4"/><line x1="203.8" x2="219.8" y1="764.2" y2="764.2"/><line x1="224.7" x2="240.7" y1="764.2" y2="764.2"/><line x1="245.6" x2="261.6" y1="766.1" y2="766.1"/><line x1="266.5" x2="282.5" y1="768" y2="768"/><line x1="287.4" x2="303.4" y1="768" y2="768"/><line x1="308.3" x2="324.3" y1="766.1" y2="766.1"/><line x1="329.2" x2="345.2" y1="764.2" y2="764.2"/><line x1="350.1" x2="366.1" y1="765.5" y2="765.5"/><line x1="371" x2="387" y1="764.2" y2="764.2"/><line x1="391.9" x2="407.9" y1="764.2" y2="764.2"/><line x1="412.8" x2="428.8" y1="768" y2="768"/><line x1="433.7" x2="449.7" y1="768" y2="768"/><line x1="454.6" x2="470.6" y1="764.2" y2="764.2"/><line x1="475.5" x2="491.5" y1="766.1" y2="766.1"/><line x1="496.4" x2="512.4" y1="764.2" y2="764.2"/><line x1="517.3" x2="533.3" y1="768" y2="768"/><line x1="538.2" x2="554.2" y1="764.2" y2="764.2"/><line x1="559.1" x2="575.1" y1="767.4" y2="767.4"/><line x1="580" x2="596" y1="768.7" y2="768.7"/><line x1="600.9" x2="616.9" y1="766.1" y2="766.1"/><line x1="621.8" x2="637.8" y1="766.1" y2="766.1"/><line x1="642.7" x2="658.7" y1="766.1" y2="766.1"/><line x1="663.6" x2="679.6" y1="767.4" y2="767.4"/><line x1="684.5" x2="700.5" y1="768" y2="768"/>
</g>
<g>
<text class="hl" x="65.5" y="762">94.7</text><text class="hl" x="86.4" y="760">97.8</text><text class="hl" x="107.3" y="759">99.5</text><text class="hl" x="128.2" y="759.5">98.8</text><text class="hl" x="149.1" y="760">98.3</text><text class="hl" x="170" y="760">98.2</text><text class="hl" x="190.9" y="761.5">95.3</text><text class="hl" x="211.8" y="760">98.4</text><text class="hl" x="232.7" y="760">97.4</text><text class="hl" x="253.6" y="761">96.5</text><text class="hl" x="274.5" y="760.5">97.1</text><text class="hl" x="295.4" y="761">96.4</text><text class="hl" x="316.3" y="761">96.3</text><text class="hl" x="337.2" y="759.5">98.8</text><text class="hl" x="358.1" y="760">98.4</text><text class="hl" x="379" y="759.5">98.6</text><text class="hl" x="399.9" y="759.5">98.9</text><text class="hl" x="420.8" y="760">97.6</text><text class="hl" x="441.7" y="760">98.0</text><text class="hl" x="462.6" y="760">97.9</text><text class="hl" x="483.5" y="760">97.7</text><text class="hl" x="504.4" y="759">99.4</text><text class="hl" x="525.3" y="760">97.8</text><text class="hl" x="546.2" y="760">97.7</text><text class="hl" x="567.1" y="761">96.2</text><text class="hl" x="588" y="761.5">95.8</text><text class="hl" x="608.9" y="760">97.5</text><text class="hl" x="629.8" y="760.5">97.2</text><text class="hl" x="650.7" y="760">97.9</text><text class="hl" x="671.6" y="761.5">95.8</text><text class="hl" x="692.5" y="761">96.7</text>
<text class="hl" x="65.5" y="793.4">63.5</text><text class="hl" x="86.4" y="785">76.6</text><text class="hl" x="107.3" y="776.2">90.3</text><text class="hl" x="128.2" y="777.4">88.4</text><text class="hl" x="149.1" y="785">76.5</text><text class="hl" x="170" y="806.4">43.1</text><text class="hl" x="190.9" y="806.7">42.6</text><text class="hl" x="211.8" y="781.9">81.4</text><text class="hl" x="232.7" y="776.3">90.1</text><text class="hl" x="253.6" y="785.4">75.9</text><text class="hl" x="274.5" y="787.5">72.7</text><text class="hl" x="295.4" y="786.3">74.5</text><text class="hl" x="316.3" y="786.4">74.4</text><text class="hl" x="337.2" y="778.7">86.4</text><text class="hl" x="358.1" y="785.9">75.2</text><text class="hl" x="379" y="777.8">87.8</text><text class="hl" x="399.9" y="782.6">80.3</text><text class="hl" x="420.8" y="788.6">71.0</text><text class="hl" x="441.7" y="787">73.5</text><text class="hl" x="462.6" y="779.7">84.9</text><text class="hl" x="483.5" y="785.7">75.5</text><text class="hl" x="504.4" y="785.6">75.6</text><text class="hl" x="525.3" y="794.7">61.4</text><text class="hl" x="546.2" y="781.8">81.6</text><text class="hl" x="567.1" y="786.2">74.7</text><text class="hl" x="588" y="785.9">75.2</text><text class="hl" x="608.9" y="787.6">72.5</text><text class="hl" x="629.8" y="785.7">75.4</text><text class="hl" x="650.7" y="785.7">75.4</text><text class="hl" x="671.6" y="787">73.5</text><text class="hl" x="692.5" y="788.5">71.1</text>
</g>
<g class="st" font-size="10.5" fill="#222"><text x="63" y="756">Um: 91.1 %</text><text x="133" y="756">Uxx: 99.9 %</text><text x="204" y="756">Unn: 42.6 %</text><text x="276" y="756">Umx: 97.0 %</text><text x="351" y="756">Umn: 76.0 %</text></g>
<rect class="fr" x="55" y="745" width="648" height="80"/>
<g class="ax"><text x="52" y="766">100</text><text x="52" y="782">75</text><text x="52" y="798">50</text><text x="52" y="814">25</text><text x="52" y="830">0</text></g>
<text class="rt" transform="translate(27,785) rotate(-90)">Prozent</text>
<text class="rt" transform="translate(719,785) rotate(-90)">Luftfeuchte</text>
<use href="#days" y="838"/>

<!-- ============ PRESSURE ============ -->
<rect x="55" y="845" width="648" height="120" fill="url(#vg)"/>
<g class="g"><line x1="55" x2="703" y1="862.1" y2="862.1"/><line x1="55" x2="703" y1="879.3" y2="879.3"/><line x1="55" x2="703" y1="896.4" y2="896.4"/><line x1="55" x2="703" y1="913.6" y2="913.6"/><line x1="55" x2="703" y1="930.7" y2="930.7"/><line x1="55" x2="703" y1="947.9" y2="947.9"/></g>
<g>
<rect class="pu" x="57.5" y="893.3" width="16" height="5.7"/><rect class="pd" x="57.5" y="899" width="16" height="4.6"/>
<rect class="pu" x="78.4" y="898.7" width="16" height="9.7"/><rect class="pd" x="78.4" y="908.4" width="16" height="6.5"/>
<rect class="pu" x="99.3" y="907.1" width="16" height="3"/><rect class="pd" x="99.3" y="910.1" width="16" height="4.3"/>
<rect class="pu" x="120.2" y="894.5" width="16" height="7.1"/><rect class="pd" x="120.2" y="901.6" width="16" height="5.8"/>
<rect class="pu" x="141.1" y="893.2" width="16" height="8.4"/><rect class="pd" x="141.1" y="901.6" width="16" height="15.4"/>
<rect class="pu" x="162" y="913.1" width="16" height="7.3"/><rect class="pd" x="162" y="920.4" width="16" height="14.3"/>
<rect class="pu" x="182.9" y="911.9" width="16" height="17.1"/><rect class="pd" x="182.9" y="929" width="16" height="10.8"/>
<rect class="pu" x="203.8" y="927.6" width="16" height="4.8"/><rect class="pd" x="203.8" y="932.4" width="16" height="6"/>
<rect class="pu" x="224.7" y="911" width="16" height="7.7"/><rect class="pd" x="224.7" y="918.7" width="16" height="8.9"/>
<rect class="pu" x="245.6" y="900" width="16" height="6.7"/><rect class="pd" x="245.6" y="906.7" width="16" height="4.5"/>
<rect class="pu" x="266.5" y="892" width="16" height="4.4"/><rect class="pd" x="266.5" y="896.4" width="16" height="4.1"/>
<rect class="pu" x="287.4" y="889.6" width="16" height="3.4"/><rect class="pd" x="287.4" y="893" width="16" height="3.3"/>
<rect class="pu" x="308.3" y="890.8" width="16" height="5.6"/><rect class="pd" x="308.3" y="896.4" width="16" height="4.7"/>
<rect class="pu" x="329.2" y="901.4" width="16" height="4.5"/><rect class="pd" x="329.2" y="905.9" width="16" height="4.8"/>
<rect class="pu" x="350.1" y="883.2" width="16" height="9.8"/><rect class="pd" x="350.1" y="893" width="16" height="11.8"/>
<rect class="pu" x="371" y="880.5" width="16" height="3.1"/><rect class="pd" x="371" y="883.6" width="16" height="1.9"/>
<rect class="pu" x="391.9" y="885.5" width="16" height="5.8"/><rect class="pd" x="391.9" y="891.3" width="16" height="6.5"/>
<rect class="pu" x="412.8" y="898" width="16" height="5.3"/><rect class="pd" x="412.8" y="903.3" width="16" height="8.9"/>
<rect class="pu" x="433.7" y="912.7" width="16" height="18"/><rect class="pd" x="433.7" y="930.7" width="16" height="13.7"/>
<rect class="pu" x="454.6" y="897.6" width="16" height="10.8"/><rect class="pd" x="454.6" y="908.4" width="16" height="14.1"/>
<rect class="pu" x="475.5" y="895.8" width="16" height="7.5"/><rect class="pd" x="475.5" y="903.3" width="16" height="14.2"/>
<rect class="pu" x="496.4" y="918" width="16" height="15.3"/><rect class="pd" x="496.4" y="933.3" width="16" height="7.9"/>
<rect class="pu" x="517.3" y="908.3" width="16" height="13"/><rect class="pd" x="517.3" y="921.3" width="16" height="8.2"/>
<rect class="pu" x="538.2" y="880.3" width="16" height="14.4"/><rect class="pd" x="538.2" y="894.7" width="16" height="13.6"/>
<rect class="pu" x="559.1" y="874.7" width="16" height="2.9"/><rect class="pd" x="559.1" y="877.6" width="16" height="3.6"/>
<rect class="pu" x="580" y="875" width="16" height="4.3"/><rect class="pd" x="580" y="879.3" width="16" height="4.5"/>
<rect class="pu" x="600.9" y="881.5" width="16" height="2.9"/><rect class="pd" x="600.9" y="884.4" width="16" height="3.8"/>
<rect class="pu" x="621.8" y="886" width="16" height="3.6"/><rect class="pd" x="621.8" y="889.6" width="16" height="4.8"/>
<rect class="pu" x="642.7" y="887" width="16" height="3.4"/><rect class="pd" x="642.7" y="890.4" width="16" height="4.5"/>
<rect class="pu" x="663.6" y="885.1" width="16" height="2.8"/><rect class="pd" x="663.6" y="887.9" width="16" height="5.3"/>
<rect class="pu" x="684.5" y="885.8" width="16" height="3.8"/><rect class="pd" x="684.5" y="889.6" width="16" height="5.5"/>
</g>
<g>
<text class="hl" x="65.5" y="890.3">31.8</text><text class="hl" x="86.4" y="895.7">28.7</text><text class="hl" x="107.3" y="904.1">23.8</text><text class="hl" x="128.2" y="891.5">31.1</text><text class="hl" x="149.1" y="890.2">31.9</text><text class="hl" x="170" y="910.1">20.3</text><text class="hl" x="190.9" y="908.9">21.0</text><text class="hl" x="211.8" y="924.6">11.8</text><text class="hl" x="232.7" y="908">21.5</text><text class="hl" x="253.6" y="897">27.9</text><text class="hl" x="274.5" y="889">32.6</text><text class="hl" x="295.4" y="886.6">34.0</text><text class="hl" x="316.3" y="887.8">33.3</text><text class="hl" x="337.2" y="898.4">27.1</text><text class="hl" x="358.1" y="880.2">37.7</text><text class="hl" x="379" y="877.5">39.3</text><text class="hl" x="399.9" y="882.5">36.4</text><text class="hl" x="420.8" y="895">29.1</text><text class="hl" x="441.7" y="909.7">20.5</text><text class="hl" x="462.6" y="894.6">29.3</text><text class="hl" x="483.5" y="892.8">30.4</text><text class="hl" x="504.4" y="915">17.4</text><text class="hl" x="525.3" y="905.3">23.1</text><text class="hl" x="546.2" y="877.3">39.4</text><text class="hl" x="567.1" y="871.7">42.7</text><text class="hl" x="588" y="872">42.5</text><text class="hl" x="608.9" y="878.5">38.7</text><text class="hl" x="629.8" y="883">36.1</text><text class="hl" x="650.7" y="884">35.5</text><text class="hl" x="671.6" y="882.1">36.6</text><text class="hl" x="692.5" y="882.8">36.2</text>
<text class="hl" x="65.5" y="912.6">25.8</text><text class="hl" x="86.4" y="923.9">19.2</text><text class="hl" x="107.3" y="923.4">19.5</text><text class="hl" x="128.2" y="916.4">23.6</text><text class="hl" x="149.1" y="926">18.0</text><text class="hl" x="170" y="943.7">07.7</text><text class="hl" x="190.9" y="948.8">04.7</text><text class="hl" x="211.8" y="947.4">05.5</text><text class="hl" x="232.7" y="936.6">11.8</text><text class="hl" x="253.6" y="920.2">21.4</text><text class="hl" x="274.5" y="909.5">27.6</text><text class="hl" x="295.4" y="905.3">30.1</text><text class="hl" x="316.3" y="910.1">27.3</text><text class="hl" x="337.2" y="919.7">21.7</text><text class="hl" x="358.1" y="913.8">25.1</text><text class="hl" x="379" y="894.5">36.4</text><text class="hl" x="399.9" y="906.8">29.2</text><text class="hl" x="420.8" y="921.2">20.8</text><text class="hl" x="441.7" y="953.4">02.0</text><text class="hl" x="462.6" y="931.5">14.8</text><text class="hl" x="483.5" y="926.5">17.7</text><text class="hl" x="504.4" y="950.2">03.9</text><text class="hl" x="525.3" y="938.5">10.7</text><text class="hl" x="546.2" y="917.3">23.1</text><text class="hl" x="567.1" y="890.2">38.9</text><text class="hl" x="588" y="892.8">37.4</text><text class="hl" x="608.9" y="897.2">34.8</text><text class="hl" x="629.8" y="903.4">31.2</text><text class="hl" x="650.7" y="903.9">30.9</text><text class="hl" x="671.6" y="902.2">31.9</text><text class="hl" x="692.5" y="904.1">30.8</text>
</g>
<g class="st" font-size="10.5" fill="#222"><text x="63" y="859">Pm: 1026.5 hPa</text><text x="155" y="859">Pxx: 1042.7 hPa</text><text x="248" y="859">Pnn: 1002.0 hPa</text><text x="342" y="859">Pmx: 1041.2 hPa</text><text x="438" y="859">Pmn: 1008.4 hPa</text></g>
<rect class="fr" x="55" y="845" width="648" height="120"/>
<g class="ax"><text x="52" y="850">1060</text><text x="52" y="867">1050</text><text x="52" y="884">1040</text><text x="52" y="901">1030</text><text x="52" y="918">1020</text><text x="52" y="935">1010</text><text x="52" y="952">1000</text><text x="52" y="970">990</text></g>
<text class="rt" transform="translate(19,905) rotate(-90)">hPa</text>
<text class="rt" transform="translate(719,905) rotate(-90)">Luftdruck (NHN)</text>
<use href="#days" y="978"/>

<!-- ============ WIND ============ -->
<g>
<rect x="55" y="985" width="648" height="20" fill="#f6efcf"/>
<rect x="55" y="1005" width="648" height="27" fill="#f7f7dc"/>
<rect x="55" y="1032" width="648" height="25" fill="#f1f7d6"/>
<rect x="55" y="1057" width="648" height="22" fill="#ebf6d8"/>
<rect x="55" y="1079" width="648" height="21" fill="#e6f6df"/>
<rect x="55" y="1100" width="648" height="18" fill="#e6f8ef"/>
<rect x="55" y="1118" width="648" height="14" fill="#e8f8f6"/>
<rect x="55" y="1132" width="648" height="13" fill="#f1fbfb"/>
</g>
<rect x="55" y="985" width="648" height="160" fill="url(#vg)" opacity=".7"/>
<g class="g"><line x1="55" x2="703" y1="1007.9" y2="1007.9"/><line x1="55" x2="703" y1="1030.7" y2="1030.7"/><line x1="55" x2="703" y1="1053.6" y2="1053.6"/><line x1="55" x2="703" y1="1076.4" y2="1076.4"/><line x1="55" x2="703" y1="1099.3" y2="1099.3"/><line x1="55" x2="703" y1="1122.1" y2="1122.1"/></g>
<g class="bf">
<text x="137" y="1129" fill="#c8ece4">2</text><text x="137" y="1112" fill="#c6eccc">3</text><text x="137" y="1094" fill="#cdeab8">4</text><text x="137" y="1073" fill="#d8ecb0">5</text><text x="137" y="1049" fill="#e2eab0">6</text><text x="137" y="1023" fill="#ece8b4">7</text><text x="137" y="1001" fill="#ece0b0">8</text>
<text x="299" y="1129" fill="#c8ece4">2</text><text x="299" y="1112" fill="#c6eccc">3</text><text x="299" y="1094" fill="#cdeab8">4</text><text x="299" y="1073" fill="#d8ecb0">5</text><text x="299" y="1049" fill="#e2eab0">6</text><text x="299" y="1023" fill="#ece8b4">7</text><text x="299" y="1001" fill="#ece0b0">8</text>
<text x="463" y="1129" fill="#c8ece4">2</text><text x="463" y="1112" fill="#c6eccc">3</text><text x="463" y="1094" fill="#cdeab8">4</text><text x="463" y="1073" fill="#d8ecb0">5</text><text x="463" y="1049" fill="#e2eab0">6</text><text x="463" y="1023" fill="#ece8b4">7</text><text x="463" y="1001" fill="#ece0b0">8</text>
<text x="626" y="1129" fill="#c8ece4">2</text><text x="626" y="1112" fill="#c6eccc">3</text><text x="626" y="1094" fill="#cdeab8">4</text><text x="626" y="1073" fill="#d8ecb0">5</text><text x="626" y="1049" fill="#e2eab0">6</text><text x="626" y="1023" fill="#ece8b4">7</text><text x="626" y="1001" fill="#ece0b0">8</text>
</g>
<polyline fill="none" stroke="#ffb89a" stroke-width="3" opacity=".6" points="65.5,1135.9 86.4,1135.9 107.3,1138.1 128.2,1135.9 149.1,1138.1 170,1126.7 190.9,1135.9 211.8,1138.1 232.7,1124.4 253.6,1133.6 274.5,1135.9 295.4,1138.1 316.3,1135.9 337.2,1138.1 358.1,1138.1 379,1138.1 399.9,1135.9 420.8,1135.9 441.7,1133.6 462.6,1138.1 483.5,1138.1 504.4,1133.6 525.3,1138.1 546.2,1138.1 567.1,1138.1 588,1135.9 608.9,1135.9 629.8,1135.9 650.7,1135.9 671.6,1135.9 692.5,1135.9"/>
<polyline fill="none" stroke="#ff7f50" stroke-width="1.2" points="65.5,1136.5 86.4,1136.5 107.3,1137.5 128.2,1136.8 149.1,1137.8 170,1127.5 190.9,1134.5 211.8,1139.5 232.7,1124.4 253.6,1133.6 274.5,1136.5 295.4,1137.5 316.3,1136.5 337.2,1138.5 358.1,1138 379,1138 399.9,1136 420.8,1136 441.7,1133.6 462.6,1138.1 483.5,1138.6 504.4,1133.6 525.3,1138.1 546.2,1138.6 567.1,1138.1 588,1136.5 608.9,1135.9 629.8,1135.9 650.7,1135.9 671.6,1135.9 692.5,1135"/>
<polyline fill="none" stroke="#d81b60" stroke-width="1.3" points="65.5,1122.1 86.4,1119.9 107.3,1097 128.2,1094.7 149.1,1117.6 170,1035.3 190.9,1101.6 211.8,1117.6 232.7,1085.6 253.6,1103.9 274.5,1117.6 295.4,1124.4 316.3,1115.3 337.2,1122.1 358.1,1101.6 379,1117.6 399.9,1115.3 420.8,1115.3 441.7,1010.1 462.6,1108.4 483.5,1122.1 504.4,1060.4 525.3,1101.6 546.2,1115.3 567.1,1122.1 588,1119.9 608.9,1117.6 629.8,1122.1 650.7,1117.6 671.6,1117.6 692.5,1113"/>
<g fill="#d81b60">
<circle cx="65.5" cy="1122.1" r="1.6"/><circle cx="86.4" cy="1119.9" r="1.6"/><circle cx="107.3" cy="1097" r="1.6"/><circle cx="128.2" cy="1094.7" r="1.6"/><circle cx="149.1" cy="1117.6" r="1.6"/><circle cx="170" cy="1035.3" r="1.6"/><circle cx="190.9" cy="1101.6" r="1.6"/><circle cx="211.8" cy="1117.6" r="1.6"/><circle cx="232.7" cy="1085.6" r="1.6"/><circle cx="253.6" cy="1103.9" r="1.6"/><circle cx="274.5" cy="1117.6" r="1.6"/><circle cx="295.4" cy="1124.4" r="1.6"/><circle cx="316.3" cy="1115.3" r="1.6"/><circle cx="337.2" cy="1122.1" r="1.6"/><circle cx="358.1" cy="1101.6" r="1.6"/><circle cx="379" cy="1117.6" r="1.6"/><circle cx="399.9" cy="1115.3" r="1.6"/><circle cx="420.8" cy="1115.3" r="1.6"/><circle cx="441.7" cy="1010.1" r="1.6"/><circle cx="462.6" cy="1108.4" r="1.6"/><circle cx="483.5" cy="1122.1" r="1.6"/><circle cx="504.4" cy="1060.4" r="1.6"/><circle cx="525.3" cy="1101.6" r="1.6"/><circle cx="546.2" cy="1115.3" r="1.6"/><circle cx="567.1" cy="1122.1" r="1.6"/><circle cx="588" cy="1119.9" r="1.6"/><circle cx="608.9" cy="1117.6" r="1.6"/><circle cx="629.8" cy="1122.1" r="1.6"/><circle cx="650.7" cy="1117.6" r="1.6"/><circle cx="671.6" cy="1117.6" r="1.6"/><circle cx="692.5" cy="1113" r="1.6"/>
</g>
<g>
<text class="wl" x="65.5" y="1118">10</text><text class="wl" x="86.4" y="1116">11</text><text class="wl" x="107.3" y="1093">21</text><text class="wl" x="128.2" y="1091">22</text><text class="wl" x="149.1" y="1114">12</text><text class="wl" x="170" y="1031">48</text><text class="wl" x="190.9" y="1098">19</text><text class="wl" x="211.8" y="1114">12</text><text class="wl" x="232.7" y="1082">26</text><text class="wl" x="253.6" y="1100">18</text><text class="wl" x="274.5" y="1114">12</text><text class="wl" x="295.4" y="1120">9</text><text class="wl" x="316.3" y="1111">13</text><text class="wl" x="337.2" y="1118">10</text><text class="wl" x="358.1" y="1098">19</text><text class="wl" x="379" y="1114">12</text><text class="wl" x="399.9" y="1111">13</text><text class="wl" x="420.8" y="1111">13</text><text class="wl" x="441.7" y="1006">59</text><text class="wl" x="462.6" y="1105">16</text><text class="wl" x="483.5" y="1118">10</text><text class="wl" x="504.4" y="1057">37</text><text class="wl" x="525.3" y="1098">19</text><text class="wl" x="546.2" y="1111">13</text><text class="wl" x="567.1" y="1118">10</text><text class="wl" x="588" y="1116">11</text><text class="wl" x="608.9" y="1114">12</text><text class="wl" x="629.8" y="1118">10</text><text class="wl" x="650.7" y="1114">12</text><text class="wl" x="671.6" y="1114">12</text><text class="wl" x="692.5" y="1109">14</text>
<text class="wo" x="65.5" y="1133">4</text><text class="wo" x="86.4" y="1133">4</text><text class="wo" x="107.3" y="1134">3</text><text class="wo" x="128.2" y="1133">4</text><text class="wo" x="149.1" y="1134">3</text><text class="wo" x="170" y="1124">8</text><text class="wo" x="190.9" y="1131">4</text><text class="wo" x="211.8" y="1136">3</text><text class="wo" x="232.7" y="1121">9</text><text class="wo" x="253.6" y="1130">5</text><text class="wo" x="274.5" y="1133">4</text><text class="wo" x="295.4" y="1134">3</text><text class="wo" x="316.3" y="1133">4</text><text class="wo" x="337.2" y="1135">3</text><text class="wo" x="358.1" y="1134">3</text><text class="wo" x="379" y="1134">3</text><text class="wo" x="399.9" y="1132">4</text><text class="wo" x="420.8" y="1132">4</text><text class="wo" x="441.7" y="1130">5</text><text class="wo" x="462.6" y="1134">3</text><text class="wo" x="483.5" y="1135">3</text><text class="wo" x="504.4" y="1130">5</text><text class="wo" x="525.3" y="1134">3</text><text class="wo" x="546.2" y="1135">3</text><text class="wo" x="567.1" y="1134">3</text><text class="wo" x="588" y="1133">4</text><text class="wo" x="608.9" y="1132">4</text><text class="wo" x="629.8" y="1132">4</text><text class="wo" x="650.7" y="1132">4</text><text class="wo" x="671.6" y="1132">4</text><text class="wo" x="692.5" y="1131">4</text>
</g>
<g class="st" font-size="10.5" fill="#222"><text x="63" y="999">Ff: 3.3 km/h</text><text x="134" y="999">Fxm: 17.2 km/h</text><text x="221" y="999">Fxx: 58.7 km/h</text><text x="307" y="999">Fmx: 25.2 km/h</text><text x="394" y="999">Ffx: 8.6 km/h</text><text x="468" y="999">nFx≥12Bft: 0</text></g>
<rect class="fr" x="55" y="985" width="648" height="160"/>
<g class="ax"><text x="52" y="990">70</text><text x="52" y="1012.9">60</text><text x="52" y="1035.7">50</text><text x="52" y="1058.6">40</text><text x="52" y="1081.4">30</text><text x="52" y="1104.3">20</text><text x="52" y="1127.1">10</text><text x="52" y="1150">0</text></g>
<text class="rt" transform="translate(27,1065) rotate(-90)">km/h</text>
<text class="rt" transform="translate(719,1065) rotate(-90)">Windgeschwindigkeit</text>
<use href="#days" y="1158"/>

<text x="364" y="1171" text-anchor="middle" font-size="11" fill="#999">Erstellt von mtwetter.de | Datenbasis: Deutscher Wetterdienst, dwd.de | 24.04.2026, 09:42 UTC</text>
</svg>
</body></html>
